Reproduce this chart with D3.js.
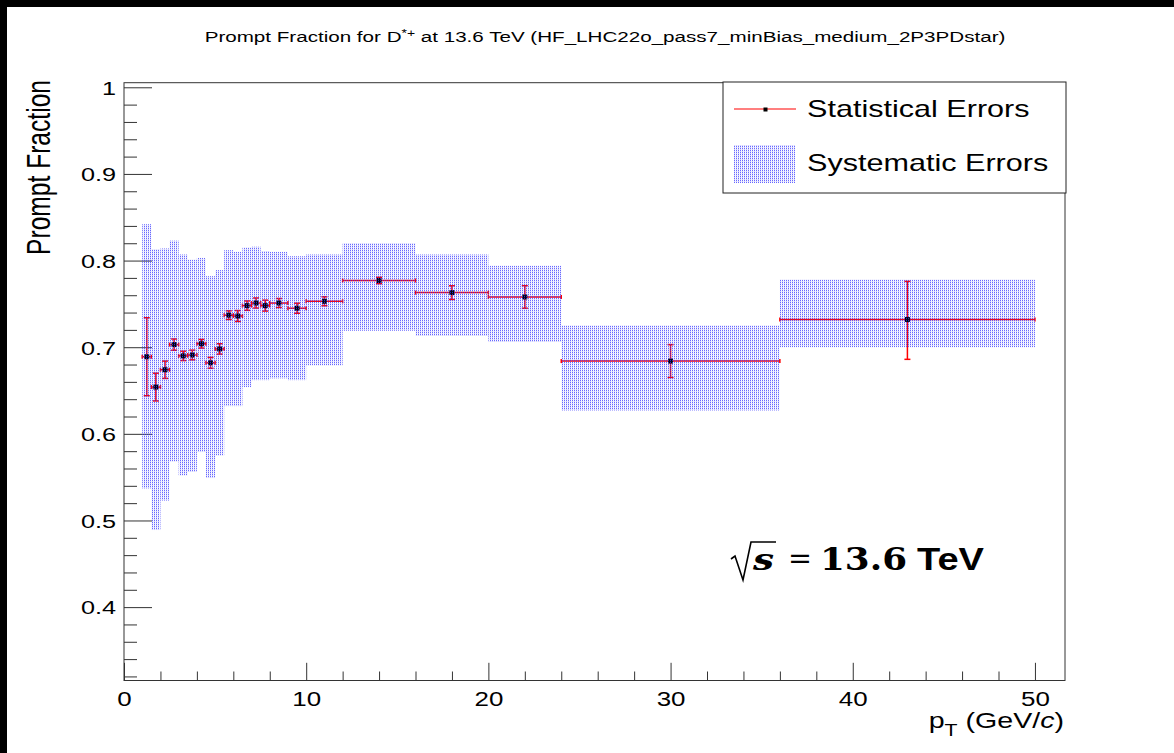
<!DOCTYPE html>
<html>
<head>
<meta charset="utf-8">
<script src="https://cdn.jsdelivr.net/npm/d3@7"></script>
<style>
  body { margin: 0; background: #fff; }
  svg { display: block; font-family: "Liberation Sans", Arial, Helvetica, sans-serif; }
  text { fill: #000; }
</style>
</head>
<body>
<svg id="chart" width="1174" height="753"></svg>
<script>
// pT bins (GeV/c) and the prompt fraction
const binLow = [1, 1.5, 2, 2.5, 3, 3.5, 4, 4.5, 5, 5.5, 6, 6.5, 7, 7.5, 8, 9, 10, 12, 16, 20, 24, 36];
const binHigh = [1.5, 2, 2.5, 3, 3.5, 4, 4.5, 5, 5.5, 6, 6.5, 7, 7.5, 8, 9, 10, 12, 16, 20, 24, 36, 50];
const ptCenter = [1.25, 1.75, 2.25, 2.75, 3.25, 3.75, 4.25, 4.75, 5.25, 5.75, 6.25, 6.75, 7.25, 7.75, 8.5, 9.5, 11, 14, 18, 22, 30, 43];
const promptFrac = [0.689, 0.654, 0.674, 0.703, 0.690, 0.691, 0.704, 0.682, 0.698, 0.737, 0.736, 0.748, 0.751, 0.748, 0.751, 0.745, 0.753, 0.777, 0.763, 0.758, 0.684, 0.732];
const statErrLow = [0.045, 0.016, 0.010, 0.0065, 0.0054, 0.0056, 0.005, 0.0063, 0.006, 0.005, 0.0063, 0.0054, 0.0058, 0.0063, 0.0052, 0.0058, 0.0052, 0.0037, 0.0079, 0.013, 0.019, 0.046];
const statErrHigh = [0.045, 0.016, 0.010, 0.0065, 0.0054, 0.0056, 0.005, 0.0063, 0.006, 0.005, 0.0063, 0.0054, 0.0058, 0.0063, 0.0052, 0.0058, 0.0052, 0.0037, 0.0079, 0.013, 0.019, 0.044];
const sysLow = [0.537, 0.489, 0.523, 0.568, 0.552, 0.556, 0.579, 0.549, 0.575, 0.632, 0.632, 0.654, 0.662, 0.662, 0.664, 0.662, 0.679, 0.719, 0.713, 0.706, 0.627, 0.700];
const sysHigh = [0.842, 0.813, 0.814, 0.823, 0.807, 0.801, 0.803, 0.782, 0.789, 0.812, 0.810, 0.815, 0.816, 0.811, 0.810, 0.805, 0.807, 0.820, 0.807, 0.794, 0.725, 0.778];

const xMajorTicks = [0, 10, 20, 30, 40, 50];
const xMinorTicks = [2, 4, 6, 8, 12, 14, 16, 18, 22, 24, 26, 28, 32, 34, 36, 38, 42, 44, 46, 48];
const yMajorTicks = [0.4, 0.5, 0.6, 0.7, 0.8, 0.9, 1];
const yMinorTicks = [0.32, 0.34, 0.36, 0.38, 0.42, 0.44, 0.46, 0.48, 0.52, 0.54, 0.56, 0.58, 0.62, 0.64, 0.66, 0.68,
  0.72, 0.74, 0.76, 0.78, 0.82, 0.84, 0.86, 0.88, 0.92, 0.94, 0.96, 0.98];

const legendLabels = ["Statistical Errors", "Systematic Errors"];

const frame = { left: 124, right: 1065, top: 82.7, bottom: 680.5 };
const SX = 1.33; // the ROOT canvas text is stretched sideways

const svg = d3.select("#chart");

const x = d3.scaleLinear().domain([0, 51.65]).range([frame.left, frame.right]);
const y = d3.scaleLinear().domain([0.3153, 1.0053]).range([frame.bottom, frame.top]);

// pattern fill like ROOT's dotted hatch, transparent between the dots
const defs = svg.append("defs");
const pat = defs.append("pattern")
  .attr("id", "sysFill")
  .attr("patternUnits", "userSpaceOnUse")
  .attr("width", 2)
  .attr("height", 2);
pat.append("rect").attr("x", 0).attr("y", 0).attr("width", 1).attr("height", 1)
  .attr("fill", "#3535ff").attr("fill-opacity", 0.75);
pat.append("rect").attr("x", 0).attr("y", 1).attr("width", 1).attr("height", 1)
  .attr("fill", "#3535ff").attr("fill-opacity", 0.22);
pat.append("rect").attr("x", 1).attr("y", 1).attr("width", 1).attr("height", 1)
  .attr("fill", "#3535ff").attr("fill-opacity", 0.08);

const stretchText = (parent, px, py, size, anchor) =>
  parent.append("text")
    .attr("transform", `translate(${px},${py}) scale(${SX},1)`)
    .attr("font-size", size)
    .attr("text-anchor", anchor);

// black borders of the screenshot
svg.append("rect").attr("x", 0).attr("y", 0).attr("width", 1174).attr("height", 7).attr("fill", "#000");
svg.append("rect").attr("x", 0).attr("y", 0).attr("width", 7).attr("height", 753).attr("fill", "#000");

// Draw axes
const yAxisMajor = d3.axisLeft(y).tickValues(yMajorTicks).tickSizeInner(-28).tickSizeOuter(0).tickPadding(8)
  .tickFormat((d) => (d === 1 ? "1" : d3.format(".1f")(d)));
const yAxisMinor = d3.axisLeft(y).tickValues(yMinorTicks).tickSizeInner(-13).tickSizeOuter(0).tickFormat("");
const xAxisMajor = d3.axisBottom(x).tickValues(xMajorTicks).tickSizeInner(-17.7).tickSizeOuter(0).tickFormat(d3.format("d"));
const xAxisMinor = d3.axisBottom(x).tickValues(xMinorTicks).tickSizeInner(-9).tickSizeOuter(0).tickFormat("");

const gy = svg.append("g").attr("transform", `translate(${frame.left},0)`).call(yAxisMajor);
svg.append("g").attr("transform", `translate(${frame.left},0)`).call(yAxisMinor);
const gx = svg.append("g").attr("transform", `translate(0,${frame.bottom})`).call(xAxisMajor);
svg.append("g").attr("transform", `translate(0,${frame.bottom})`).call(xAxisMinor);

svg.selectAll(".domain").remove();
svg.selectAll(".tick line").attr("stroke", "#333").attr("stroke-width", 1);

// d3 axes set font-family on the group, clear it so the svg font applies
svg.selectAll("g").attr("font-family", null);

gy.selectAll("text")
  .attr("font-size", 19)
  .attr("fill", "#000")
  .attr("x", -8 / SX)
  .attr("dy", "0.36em")
  .attr("transform", `scale(${SX},1)`);

gx.selectAll("text")
  .attr("font-size", 19.5)
  .attr("fill", "#000")
  .attr("y", 26)
  .attr("dy", null)
  .attr("transform", `scale(${SX},1)`);

svg.append("rect")
  .attr("x", frame.left).attr("y", frame.top)
  .attr("width", frame.right - frame.left).attr("height", frame.bottom - frame.top)
  .attr("fill", "none").attr("stroke", "#333").attr("stroke-width", 1);

// Draw statistical errors and points
const idx = d3.range(promptFrac.length);
const stat = svg.append("g").attr("class", "stat").attr("stroke", "#ff0000").attr("stroke-width", 1.5);

idx.forEach((i) => {
  const cx = x(ptCenter[i]);
  const cy = y(promptFrac[i]);
  const yTop = y(promptFrac[i] + statErrHigh[i]);
  const yBot = y(promptFrac[i] - statErrLow[i]);
  const xl = x(binLow[i]);
  const xr = x(binHigh[i]);
  stat.append("line").attr("x1", xl).attr("x2", xr).attr("y1", cy).attr("y2", cy);
  stat.append("line").attr("x1", xl).attr("x2", xl).attr("y1", cy - 2).attr("y2", cy + 2);
  stat.append("line").attr("x1", xr).attr("x2", xr).attr("y1", cy - 2).attr("y2", cy + 2);
  stat.append("line").attr("x1", cx).attr("x2", cx).attr("y1", yTop).attr("y2", yBot);
  stat.append("line").attr("x1", cx - 3).attr("x2", cx + 3).attr("y1", yTop).attr("y2", yTop);
  stat.append("line").attr("x1", cx - 3).attr("x2", cx + 3).attr("y1", yBot).attr("y2", yBot);
});

svg.append("g").selectAll("rect")
  .data(idx)
  .join("rect")
  .attr("x", (i) => x(ptCenter[i]) - 2.5)
  .attr("y", (i) => y(promptFrac[i]) - 2.5)
  .attr("width", 5)
  .attr("height", 5)
  .attr("fill", "#000");

// Draw systematic boxes on top (transparent pattern)
svg.append("g").selectAll("rect")
  .data(idx)
  .join("rect")
  .attr("x", (i) => x(binLow[i]))
  .attr("y", (i) => y(sysHigh[i]))
  .attr("width", (i) => x(binHigh[i]) - x(binLow[i]))
  .attr("height", (i) => y(sysLow[i]) - y(sysHigh[i]))
  .attr("fill", "url(#sysFill)");

// Legend
const legend = svg.append("g").attr("class", "legend");
legend.append("rect")
  .attr("x", 723).attr("y", 82).attr("width", 343).attr("height", 111)
  .attr("fill", "#fff").attr("stroke", "#222").attr("stroke-width", 1);
legend.append("line")
  .attr("x1", 734).attr("x2", 796).attr("y1", 109).attr("y2", 109)
  .attr("stroke", "#ff5555").attr("stroke-width", 1.4);
legend.append("rect")
  .attr("x", 763.5).attr("y", 107.5).attr("width", 4).attr("height", 4).attr("fill", "#000");
legend.append("rect")
  .attr("x", 734).attr("y", 145).attr("width", 61).attr("height", 38)
  .attr("fill", "url(#sysFill)");
stretchText(legend, 807, 117, 23, "start").text(legendLabels[0]);
stretchText(legend, 807, 171, 23, "start").text(legendLabels[1]);

// Title
const title = stretchText(svg, 605, 42, 15.5, "middle");
title.append("tspan").text("Prompt Fraction for D");
title.append("tspan").attr("font-size", 10.5).attr("dy", -5).text("*+");
title.append("tspan").attr("dy", 5).text(" at 13.6 TeV (HF_LHC22o_pass7_minBias_medium_2P3PDstar)");

// Axis titles
svg.append("text")
  .attr("transform", `translate(50,80) scale(${SX},1) rotate(-90)`)
  .attr("font-size", 24.6)
  .attr("text-anchor", "end")
  .text("Prompt Fraction");

const xt = stretchText(svg, 1064, 728, 21.5, "end");
xt.append("tspan").text("p");
xt.append("tspan").attr("font-size", 16).attr("dy", 8).text("T");
xt.append("tspan").attr("dy", -8).text(" (GeV/");
xt.append("tspan").attr("font-style", "italic").text("c");
xt.append("tspan").text(")");

// sqrt(s) annotation
const serif = "'DejaVu Serif', 'Liberation Serif', serif";
const ann = svg.append("g").attr("class", "energy");
ann.append("text")
  .attr("x", 753).attr("y", 570)
  .style("font-family", serif)
  .attr("font-weight", "bold").attr("font-style", "italic")
  .attr("font-size", 30)
  .attr("textLength", 21).attr("lengthAdjust", "spacingAndGlyphs")
  .text("s");
ann.append("path")
  .attr("d", "M731,559 L735,556 L743,580 L751,542 L776,542")
  .attr("fill", "none").attr("stroke", "#000").attr("stroke-width", 1.6);
ann.append("text")
  .attr("x", 788).attr("y", 568)
  .style("font-family", serif)
  .attr("font-size", 30)
  .attr("textLength", 24).attr("lengthAdjust", "spacingAndGlyphs")
  .text("=");
ann.append("text")
  .attr("x", 820).attr("y", 570)
  .style("font-family", serif).attr("font-weight", "bold")
  .attr("font-size", 31)
  .attr("textLength", 87).attr("lengthAdjust", "spacingAndGlyphs")
  .text("13.6");
ann.append("text")
  .attr("x", 917).attr("y", 570)
  .attr("font-weight", "bold")
  .attr("font-size", 30.5)
  .attr("textLength", 67).attr("lengthAdjust", "spacingAndGlyphs")
  .text("TeV");
</script>
</body>
</html>
